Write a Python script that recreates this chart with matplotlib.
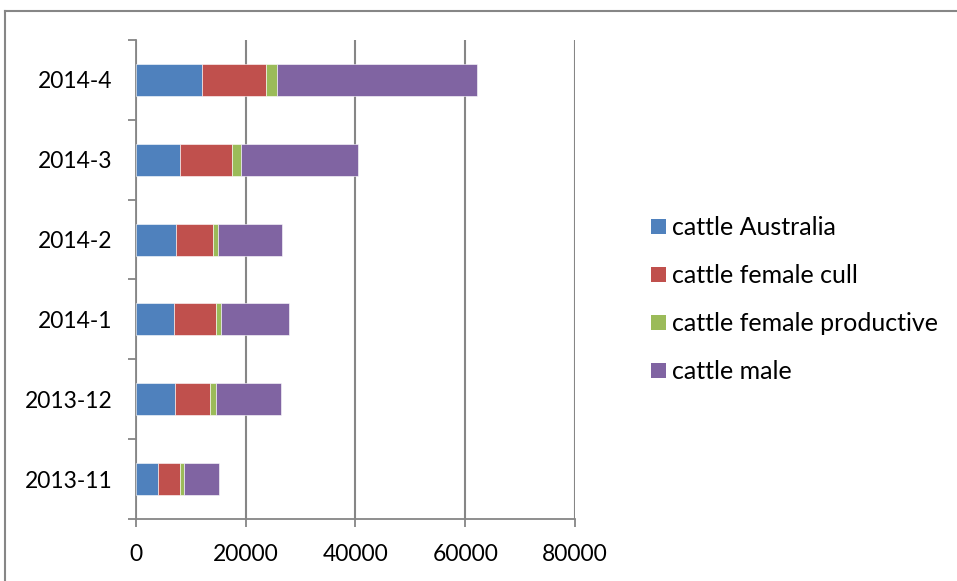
import matplotlib.pyplot as plt
from matplotlib.patches import Patch
import numpy as np

plt.rcParams['font.family'] = ['Lato', 'DejaVu Sans']

meses = ['2013-11', '2013-12', '2014-1', '2014-2', '2014-3', '2014-4']
series = ['cattle Australia', 'cattle female cull',
          'cattle female productive', 'cattle male']
australia = [4000, 7050, 7000, 7350, 8100, 12000]
femea_descarte = [4000, 6450, 7600, 6700, 9350, 11700]
femea_produtiva = [700, 1050, 850, 850, 1650, 2000]
macho = [6500, 11900, 12400, 11650, 21450, 36400]
cores = ['#4F81BD', '#C0504D', '#9BBB59', '#8064A2']

fig = plt.figure(figsize=(9.57, 5.81), dpi=100)
ax = fig.add_axes([0.1421, 0.1067, 0.4587, 0.8245])

y = np.arange(len(meses))
base = np.zeros(len(meses))
for valores, cor in zip([australia, femea_descarte, femea_produtiva, macho], cores):
    ax.barh(y, valores, left=base, height=0.4, color=cor,
            edgecolor='white', linewidth=0.4, zorder=3)
    base += np.array(valores)

cinza = '#868686'
ax.set_xlim(0, 80000)
ax.set_ylim(-0.5, len(meses) - 0.5)
ax.set_xticks([0, 20000, 40000, 60000, 80000])
ax.set_yticks(y)
ax.set_yticklabels(meses)
ax.set_yticks(np.arange(-0.5, len(meses)), minor=True)
ax.tick_params(axis='y', which='major', length=0, pad=17, labelsize=16.5)
ax.tick_params(axis='y', which='minor', length=6, width=1.3, color=cinza)
ax.tick_params(axis='x', length=6, width=1.3, color=cinza, pad=12, labelsize=16.5)
ax.xaxis.grid(True, color=cinza, linewidth=1.5, zorder=0)
for lado in ['top', 'right']:
    ax.spines[lado].set_visible(False)
for lado in ['left', 'bottom']:
    ax.spines[lado].set_color(cinza)
    ax.spines[lado].set_linewidth(1.3)

handles = [Patch(facecolor=c, label=s) for c, s in zip(cores, series)]
fig.legend(handles=handles, loc='center left', bbox_to_anchor=(0.6695, 0.484),
           frameon=False, fontsize=18, handlelength=0.6, handleheight=0.6,
           handletextpad=0.25, labelspacing=1.0, borderaxespad=0)

# moldura do gráfico (só esquerda e topo ficam visíveis)
fig.add_artist(plt.Line2D([0.0055, 0.0055], [0, 0.981], color=cinza, linewidth=1.5))
fig.add_artist(plt.Line2D([0.0055, 1], [0.981, 0.981], color=cinza, linewidth=1.5))

fig.savefig('out.png', dpi=100)
